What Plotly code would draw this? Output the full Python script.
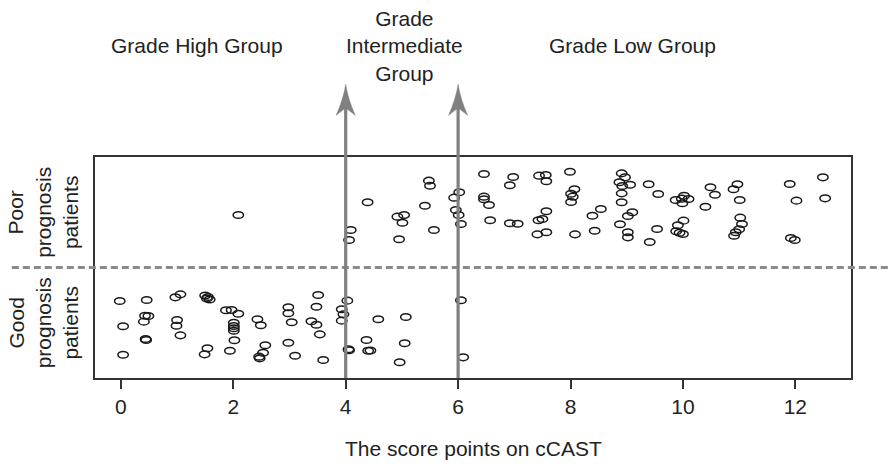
import plotly.graph_objects as go

# ---- data ----
poor_x = [2.09, 4.09, 4.06, 4.39, 5.48, 5.50, 5.41, 4.92, 5.04, 5.01, 4.95, 5.57,
          6.02, 5.93, 5.96, 6.01, 6.05, 6.46, 6.46, 6.46, 6.55, 6.57, 6.98, 6.92,
          6.92, 7.06, 7.44, 7.56, 7.57, 7.57, 7.50, 7.43, 7.57, 7.41, 7.99, 8.07,
          8.01, 8.04, 8.01, 8.08, 8.39, 8.43, 8.54,
          8.91, 8.97, 8.87, 9.06, 8.92, 8.91, 8.91, 9.10, 9.02, 8.88, 9.02, 9.02,
          9.39, 9.56, 9.54, 9.41, 9.87, 10.02, 9.98, 10.10, 9.99, 10.01, 9.91, 9.88,
          9.94, 10.00, 10.49, 10.57, 10.40, 10.97, 10.90, 11.01, 11.02, 11.05, 11.00,
          10.94, 10.91, 11.90, 12.02, 11.92, 11.99, 12.49, 12.53]
poor_y = [1.475, 1.339, 1.249, 1.590, 1.786, 1.740, 1.559, 1.460, 1.475, 1.405, 1.255, 1.339,
          1.681, 1.632, 1.520, 1.475, 1.394, 1.846, 1.641, 1.617, 1.566, 1.427, 1.819, 1.744,
          1.400, 1.396, 1.831, 1.837, 1.780, 1.509, 1.439, 1.427, 1.319, 1.300, 1.867, 1.708,
          1.668, 1.641, 1.593, 1.300, 1.469, 1.333, 1.529,
          1.852, 1.816, 1.771, 1.749, 1.738, 1.671, 1.590, 1.500, 1.466, 1.391, 1.319, 1.273,
          1.753, 1.665, 1.348, 1.231, 1.611, 1.650, 1.623, 1.620, 1.581, 1.424, 1.382, 1.328,
          1.315, 1.303, 1.726, 1.659, 1.550, 1.753, 1.708, 1.611, 1.451, 1.394, 1.346,
          1.319, 1.288, 1.756, 1.605, 1.267, 1.249, 1.816, 1.626]

good_x = [-0.02, 0.04, 0.04, 0.46, 0.43, 0.49, 0.41, 0.44, 0.45, 0.97, 1.06, 1.00,
          0.99, 1.06, 1.50, 1.55, 1.58, 1.53, 1.54, 1.49, 1.87, 1.97, 2.09, 2.01,
          2.01, 2.01, 2.01, 2.02, 1.94, 2.43, 2.49, 2.57, 2.53, 2.46, 2.47, 2.98,
          2.98, 3.04, 2.98, 3.10, 3.51, 3.48, 3.39, 3.48, 3.54, 3.60, 4.03, 3.93,
          3.96, 3.93, 4.05, 4.06, 4.37, 4.40, 4.44, 4.58, 5.07, 5.05, 4.96, 6.05, 6.09]
good_y = [0.697, 0.468, 0.211, 0.706, 0.564, 0.561, 0.510, 0.353, 0.344, 0.730, 0.757, 0.525,
          0.473, 0.386, 0.747, 0.733, 0.710, 0.719, 0.269, 0.214, 0.613, 0.615, 0.582, 0.500,
          0.471, 0.450, 0.428, 0.341, 0.247, 0.531, 0.477, 0.296, 0.229, 0.193, 0.178, 0.640,
          0.586, 0.504, 0.319, 0.202, 0.751, 0.645, 0.513, 0.482, 0.395, 0.163, 0.700, 0.622,
          0.576, 0.519, 0.260, 0.251, 0.344, 0.247, 0.249, 0.531, 0.552, 0.314, 0.142, 0.703, 0.187]

cutoffs = [4, 6]
x_ticks = [0, 2, 4, 6, 8, 10, 12]
group_labels = ["Grade High Group", "Grade<br>Intermediate<br>Group", "Grade Low Group"]
group_label_x = [1.36, 5.04, 9.11]
class_labels = ["Poor<br>prognosis<br>patients", "Good<br>prognosis<br>patients"]
class_label_y = [1.5, 0.5]
split_y = 1.0
x_title = "The score points on cCAST"

FONT = "Liberation Sans, Arial, sans-serif"
TXT = "#222222"
GRAY = "#808080"

fig = go.Figure()
all_x = poor_x + good_x
all_y = poor_y + good_y
fig.add_trace(go.Scatter(x=all_x, y=all_y, mode="markers",
                         marker=dict(size=10, opacity=0), showlegend=False,
                         hoverinfo="x"))

shapes = []
for xv, yv in zip(all_x, all_y):
    shapes.append(dict(type="circle", xref="x", yref="y",
                       xsizemode="pixel", ysizemode="pixel",
                       xanchor=xv, yanchor=yv,
                       x0=-5.2, x1=5.2, y0=-3.3, y1=3.3,
                       line=dict(color="#1a1a1a", width=1.5),
                       fillcolor="rgba(0,0,0,0)", layer="above"))

# dashed separator
shapes.append(dict(type="line", xref="paper", yref="y", x0=-0.11, x1=1.06,
                   y0=split_y, y1=split_y,
                   line=dict(color="#8a8a8a", width=3, dash="7px,4px"), layer="above"))

tip_paper = 1.329
for c in cutoffs:
    shapes.append(dict(type="line", xref="x", yref="paper", x0=c, x1=c,
                       y0=0, y1=tip_paper - 0.09,
                       line=dict(color=GRAY, width=3.2), layer="above"))
    shapes.append(dict(type="path", xref="x", yref="paper",
                       xsizemode="pixel", ysizemode="pixel",
                       xanchor=c, yanchor=tip_paper,
                       path="M0,0 Q2,-14 9.5,-31 Q2,-25 0,-24 Q-2,-25 -9.5,-31 Q-2,-14 0,0 Z",
                       fillcolor=GRAY, line=dict(color=GRAY, width=0.5), layer="above"))

annotations = []
for lab, gx in zip(group_labels, group_label_x):
    annotations.append(dict(text=lab, x=gx, xref="x", y=1.503, yref="paper",
                            xanchor="center", yanchor="middle", showarrow=False,
                            font=dict(family=FONT, size=21, color=TXT)))
for lab, cy in zip(class_labels, class_label_y):
    annotations.append(dict(text=lab, x=-0.068, xref="paper", y=cy, yref="y",
                            xanchor="center", yanchor="middle", showarrow=False,
                            textangle=-90,
                            font=dict(family=FONT, size=21, color=TXT)))
annotations.append(dict(text=x_title, x=0.5, xref="paper", y=-0.32, yref="paper",
                        xanchor="center", yanchor="middle", showarrow=False,
                        font=dict(family=FONT, size=21, color=TXT)))

fig.update_layout(
    width=889, height=466,
    margin=dict(l=95, r=38, t=157, b=88),
    paper_bgcolor="white", plot_bgcolor="white",
    showlegend=False,
    shapes=shapes, annotations=annotations,
    xaxis=dict(range=[-0.46, 12.99], tickvals=x_ticks, ticktext=[str(t) for t in x_ticks],
               ticks="outside", ticklen=9, tickwidth=1.5, tickcolor="#333",
               showline=True, mirror=True, linecolor="#333", linewidth=1.5,
               showgrid=False, zeroline=False,
               tickfont=dict(family=FONT, size=21, color=TXT)),
    yaxis=dict(range=[0, 2], showticklabels=False, ticks="",
               showline=True, mirror=True, linecolor="#333", linewidth=1.5,
               showgrid=False, zeroline=False),
)

fig.write_html("out.html",
               config={"displayModeBar": False},
               post_script="document.body.style.margin='0';document.body.style.padding='0';")
